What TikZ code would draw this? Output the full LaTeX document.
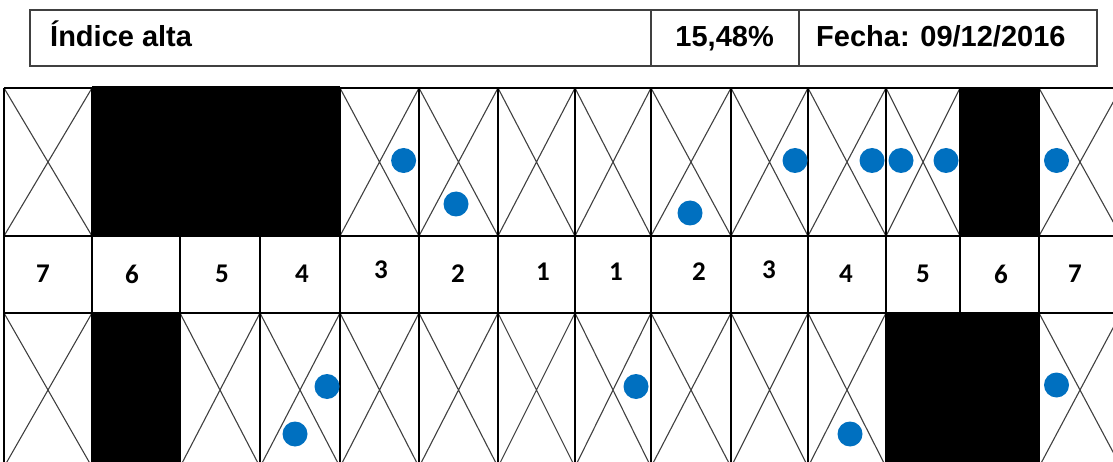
\documentclass[tikz,border=0pt]{standalone}
\usepackage{fontspec}
\setmainfont{Liberation Sans}
\newfontfamily\numfont{Carlito}
\definecolor{dotblue}{HTML}{0070C0}
\tikzset{
  hdrbox/.style={draw=black!75, line width=1.1pt},
  hdrtext/.style={font=\bfseries\fontsize{29}{34}\selectfont, inner sep=0pt},
  gridline/.style={draw=black, line width=1.3pt},
  xline/.style={draw=black!75, line width=1.1pt},
  blockfill/.style={fill=black},
  numtext/.style={font=\numfont\bfseries\fontsize{27}{30}\selectfont, inner sep=0pt},
  dot/.style={circle, fill=dotblue, minimum size=25pt, inner sep=0pt}
}
\begin{document}
\begin{tikzpicture}[x=1pt,y=-1pt]
\useasboundingbox (0,0) rectangle (1113,462);
\clip (0,0) rectangle (1113,462);
% header
\draw[hdrbox] (30,10) rectangle (1097,66);
\draw[hdrbox] (651,10) -- (651,66) (799,10) -- (799,66);
\node[hdrtext, anchor=base west] (title) at (50,47) {Índice alta};
\node[hdrtext, anchor=base east] (pct) at (774,47) {15,48\%};
\node[hdrtext, anchor=base west] (fecha) at (816,47) {Fecha: 09/12/2016};
% crosses
\foreach \a/\b in {4/92,92/180,180/260,260/340,340/419,419/498,498/575,575/651,651/731,731/808,808/886,886/960,960/1039,1039/1121}{
  \draw[xline] (\a,88) -- (\b,236) (\a,236) -- (\b,88);
  \draw[xline] (\a,313) -- (\b,467) (\a,467) -- (\b,313);
}
% black blocks
\fill[blockfill] (92,86) rectangle (340,237);
\fill[blockfill] (960,88) rectangle (1039,237);
\fill[blockfill] (92,313) rectangle (180,467);
\fill[blockfill] (886,313) rectangle (1039,467);
% grid
\foreach \x in {4,92,180,260,340,419,498,575,651,731,808,886,960,1039}{
  \draw[gridline] (\x,88) -- (\x,467);
}
\draw[gridline] (4,88) -- (1121,88) (4,236) -- (1121,236) (4,313) -- (1121,313);
% numbers
\foreach \x/\t/\y [count=\i] in {43/7/274,132/6/274,222/5/274,302/4/274,381/3/270,458/2/274,543/1/272,616/1/272,699/2/272,769/3/270,846/4/274,923/5/274,1001/6/274,1075/7/274}{
  \node[numtext] (n\i) at (\x,\y) {\t};
}
% dots
\node[dot] (a1) at (403.6,160.5) {};
\node[dot] (a2) at (456,204) {};
\node[dot] (a3) at (690,213) {};
\node[dot] (a4) at (795,160.5) {};
\node[dot] (a5) at (872,160.5) {};
\node[dot] (a6) at (901,160.5) {};
\node[dot] (a7) at (946,160.5) {};
\node[dot] (a8) at (1056.5,160.5) {};
\node[dot] (b1) at (327,386.5) {};
\node[dot] (b2) at (295,434) {};
\node[dot] (b3) at (636,386.5) {};
\node[dot] (b4) at (850,434) {};
\node[dot] (b5) at (1056.5,385) {};
\end{tikzpicture}
\end{document}
